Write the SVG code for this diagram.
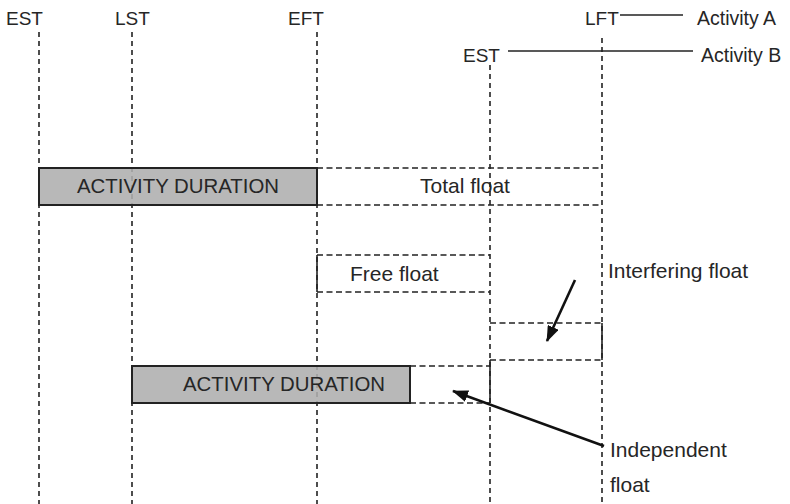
<svg xmlns="http://www.w3.org/2000/svg" width="790" height="504" viewBox="0 0 790 504">
  <style>
    text { font-family: "Liberation Sans", Arial, sans-serif; font-size: 21px; fill: #262626; }
    text.hdr { font-size: 19px; }
    text.act { font-size: 19.5px; }
    text.dur { font-size: 20.4px; }
    .vdash { stroke: #222; stroke-width: 1.6; stroke-dasharray: 5 4; fill: none; }
    .hdash { stroke: #222; stroke-width: 1.6; stroke-dasharray: 6 3.5; fill: none; }
    .solid { stroke: #222; stroke-width: 1.6; fill: none; }
    .bar { fill: #aeaeae; fill-opacity: 0.88; stroke: #222; stroke-width: 2; }
    .arrow { stroke: #111; stroke-width: 2.6; fill: none; marker-end: url(#head); }
  </style>
  <defs>
    <marker id="head" viewBox="0 0 16 12" refX="15" refY="6" markerWidth="16" markerHeight="12" orient="auto" markerUnits="userSpaceOnUse">
      <path d="M0,0 L16,6 L0,12 Z" fill="#111"/>
    </marker>
  </defs>
  <rect width="790" height="504" fill="#fff"/>

  <!-- time markers -->
  <g id="time-lines">
    <line class="vdash" x1="39" y1="32" x2="39" y2="504"/>
    <line class="vdash" x1="132" y1="32" x2="132" y2="504"/>
    <line class="vdash" x1="317" y1="32" x2="317" y2="504"/>
    <line class="vdash" x1="490" y1="65" x2="490" y2="504"/>
    <line class="vdash" x1="602" y1="38" x2="602" y2="504"/>
  </g>
  <g id="time-labels">
    <text class="hdr" x="6" y="25">EST</text>
    <text class="hdr" x="115" y="25">LST</text>
    <text class="hdr" x="288" y="25">EFT</text>
    <text class="hdr" x="585" y="25">LFT</text>
    <text class="hdr" x="463" y="62">EST</text>
    <line class="solid" x1="620" y1="15" x2="683" y2="15"/>
    <line class="solid" x1="508" y1="51" x2="693" y2="51"/>
    <text class="act" x="697" y="25">Activity A</text>
    <text class="act" x="701" y="62">Activity B</text>
  </g>

  <!-- activity A -->
  <g id="activity-a">
    <rect class="bar" x="39" y="168" width="278" height="37"/>
    <text class="dur" x="178" y="193" text-anchor="middle">ACTIVITY DURATION</text>
  </g>
  <g id="total-float">
    <line class="hdash" x1="317" y1="168" x2="602" y2="168"/>
    <line class="hdash" x1="317" y1="205" x2="602" y2="205"/>
    <text x="465" y="193" text-anchor="middle">Total float</text>
  </g>
  <g id="free-float">
    <line class="hdash" x1="317" y1="255" x2="490" y2="255"/>
    <line class="hdash" x1="317" y1="292" x2="490" y2="292"/>
    <line class="solid" x1="317" y1="255" x2="317" y2="292"/>
    <text x="350" y="281">Free float</text>
  </g>
  <g id="interfering-float">
    <line class="hdash" x1="490" y1="323" x2="602" y2="323"/>
    <line class="hdash" x1="490" y1="360" x2="602" y2="360"/>
    <line class="solid" x1="602" y1="323" x2="602" y2="360"/>
    <text x="608" y="278">Interfering float</text>
  </g>

  <!-- activity B -->
  <g id="activity-b">
    <rect class="bar" x="132" y="366" width="278" height="37"/>
    <text class="dur" x="284" y="391" text-anchor="middle">ACTIVITY DURATION</text>
  </g>
  <g id="independent-float">
    <line class="hdash" x1="410" y1="366" x2="490" y2="366"/>
    <line class="hdash" x1="410" y1="403" x2="490" y2="403"/>
    <line class="solid" x1="490" y1="360" x2="490" y2="403"/>
    <text x="610" y="457">Independent</text>
    <text x="610" y="492">float</text>
  </g>

  <g id="connectors">
    <line class="arrow" x1="575" y1="280" x2="547" y2="341"/>
    <line class="arrow" x1="604" y1="446" x2="453" y2="391"/>
  </g>
</svg>
